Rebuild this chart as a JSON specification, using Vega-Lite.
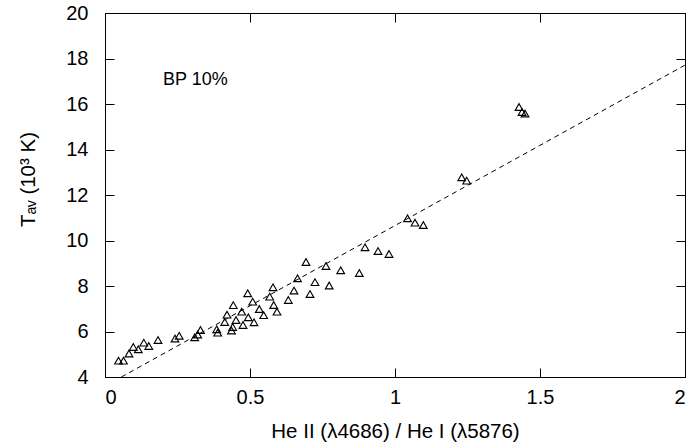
{
  "$schema": "https://vega.github.io/schema/vega-lite/v6.json",
  "autosize": {"type": "none"},
  "padding": {"left": 105, "top": 13, "right": 10, "bottom": 68},
  "width": 580,
  "height": 364,
  "background": "white",
  "config": {
    "view": {"stroke": null},
    "font": "Liberation Sans",
    "axis": {
      "grid": false,
      "domainColor": "black",
      "domainWidth": 1,
      "tickColor": "black",
      "tickWidth": 1,
      "tickSize": -9,
      "labelColor": "black",
      "titleColor": "black",
      "labelFont": "Liberation Sans",
      "titleFont": "Liberation Sans",
      "labelFontSize": 20,
      "titleFontSize": 20.5,
      "titleFontWeight": "normal"
    }
  },
  "datasets": {
    "points": [
      {"ratio": 0.0466, "T": 4.716}, {"ratio": 0.0638, "T": 4.716}, {"ratio": 0.0828, "T": 5.033},
      {"ratio": 0.0976, "T": 5.319}, {"ratio": 0.1148, "T": 5.218}, {"ratio": 0.1338, "T": 5.508},
      {"ratio": 0.151, "T": 5.363}, {"ratio": 0.1828, "T": 5.626}, {"ratio": 0.2414, "T": 5.692},
      {"ratio": 0.2559, "T": 5.811}, {"ratio": 0.3093, "T": 5.745}, {"ratio": 0.3197, "T": 5.868},
      {"ratio": 0.3293, "T": 6.066}, {"ratio": 0.3852, "T": 6.097}, {"ratio": 0.3886, "T": 5.947},
      {"ratio": 0.4128, "T": 6.418}, {"ratio": 0.4207, "T": 6.738}, {"ratio": 0.4362, "T": 6.044},
      {"ratio": 0.4403, "T": 6.198}, {"ratio": 0.4424, "T": 7.156}, {"ratio": 0.4517, "T": 6.505},
      {"ratio": 0.4714, "T": 6.87}, {"ratio": 0.4759, "T": 6.286}, {"ratio": 0.4921, "T": 7.679},
      {"ratio": 0.4941, "T": 6.624}, {"ratio": 0.5093, "T": 7.31}, {"ratio": 0.5138, "T": 6.404},
      {"ratio": 0.5321, "T": 6.989}, {"ratio": 0.5472, "T": 6.716}, {"ratio": 0.5679, "T": 7.53},
      {"ratio": 0.5793, "T": 7.943}, {"ratio": 0.5817, "T": 7.165}, {"ratio": 0.5931, "T": 6.87},
      {"ratio": 0.6321, "T": 7.385}, {"ratio": 0.6517, "T": 7.802}, {"ratio": 0.6638, "T": 8.338},
      {"ratio": 0.6931, "T": 9.055}, {"ratio": 0.7069, "T": 7.648}, {"ratio": 0.7241, "T": 8.167},
      {"ratio": 0.7621, "T": 8.879}, {"ratio": 0.7731, "T": 8.022}, {"ratio": 0.8128, "T": 8.69},
      {"ratio": 0.8769, "T": 8.571}, {"ratio": 0.8966, "T": 9.701}, {"ratio": 0.9414, "T": 9.538},
      {"ratio": 0.9793, "T": 9.407}, {"ratio": 1.0431, "T": 10.976}, {"ratio": 1.069, "T": 10.782},
      {"ratio": 1.0976, "T": 10.681}, {"ratio": 1.23, "T": 12.778}, {"ratio": 1.2472, "T": 12.629},
      {"ratio": 1.4276, "T": 15.868}, {"ratio": 1.4379, "T": 15.648}, {"ratio": 1.4483, "T": 15.582}
    ],
    "fit": [
      {"ratio": 0.0563, "T": 4.0},
      {"ratio": 2.0, "T": 17.71}
    ],
    "label": [
      {"ratio": 0.2, "T": 17.05, "text": "BP 10%"}
    ]
  },
  "layer": [
    {
      "data": {"name": "fit"},
      "mark": {"type": "line", "color": "black", "strokeWidth": 1, "strokeDash": [5, 4]},
      "encoding": {
        "x": {"field": "ratio", "type": "quantitative", "scale": {"domain": [0, 2], "nice": false, "zero": false},
              "axis": {"orient": "top", "labels": false, "title": null, "values": [0, 0.5, 1, 1.5, 2]}},
        "y": {"field": "T", "type": "quantitative", "scale": {"domain": [4, 20], "nice": false, "zero": false},
              "axis": {"orient": "right", "labels": false, "title": null, "values": [4, 6, 8, 10, 12, 14, 16, 18, 20]}}
      }
    },
    {
      "data": {"name": "points"},
      "mark": {"type": "point", "shape": "triangle-up", "filled": false, "stroke": "black", "strokeWidth": 1.1, "size": 60, "opacity": 1},
      "encoding": {
        "x": {"field": "ratio", "type": "quantitative", "scale": {"domain": [0, 2], "nice": false, "zero": false},
              "axis": {"orient": "bottom", "title": "He II (λ4686) / He I (λ5876)", "values": [0, 0.5, 1, 1.5, 2], "format": "~g",
                       "labelPadding": 19, "titleX": 290, "titleAlign": "center", "titleY": 54, "titleBaseline": "middle"}},
        "y": {"field": "T", "type": "quantitative", "scale": {"domain": [4, 20], "nice": false, "zero": false},
              "axis": {"orient": "left", "title": "Tₐᵥ (10³ K)", "values": [4, 6, 8, 10, 12, 14, 16, 18, 20], "format": "~g",
                       "labelPadding": 26, "titleX": -67, "titleY": 166, "titleBaseline": "bottom"}}
      }
    },
    {
      "data": {"name": "label"},
      "mark": {"type": "text", "align": "left", "baseline": "middle", "fontSize": 18, "font": "Liberation Sans", "color": "black"},
      "encoding": {
        "x": {"field": "ratio", "type": "quantitative", "axis": null},
        "y": {"field": "T", "type": "quantitative", "axis": null},
        "text": {"field": "text"}
      }
    }
  ],
  "resolve": {"axis": {"x": "independent", "y": "independent"}}
}
